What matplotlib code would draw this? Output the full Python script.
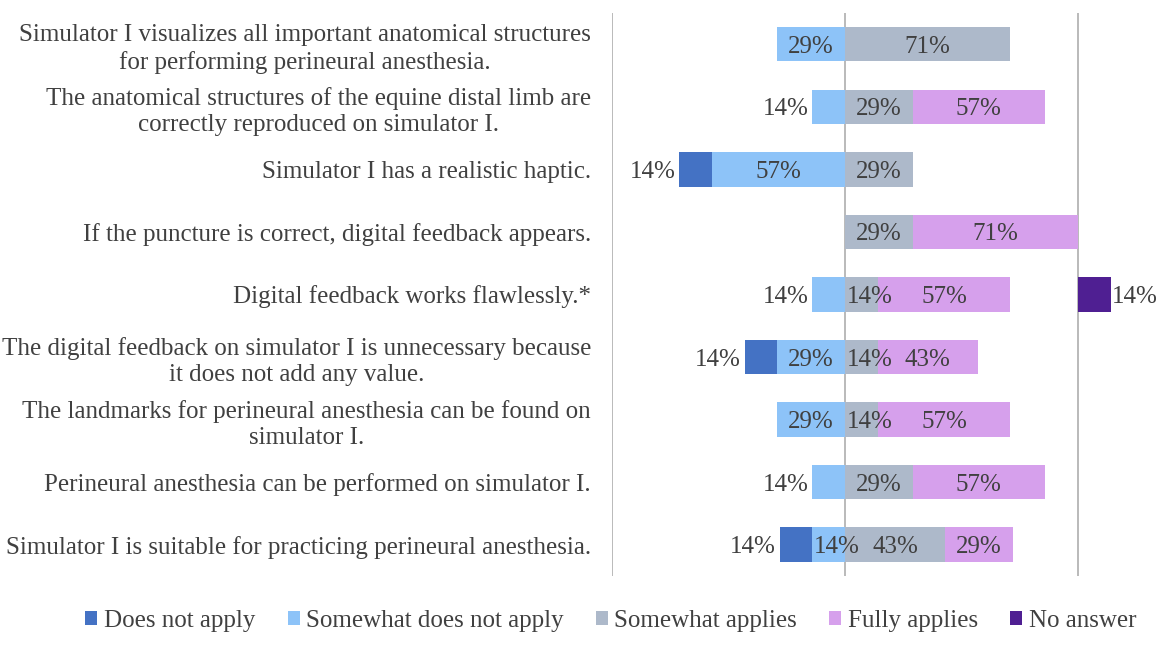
"""Diverging stacked bar chart of simulator I questionnaire answers."""
import matplotlib
matplotlib.use('Agg')
import matplotlib.pyplot as plt
import numpy as np

statements = [
    'Simulator I visualizes all important anatomical structures\nfor performing perineural anesthesia.',
    'The anatomical structures of the equine distal limb are\ncorrectly reproduced on simulator I.',
    'Simulator I has a realistic haptic.',
    'If the puncture is correct, digital feedback appears.',
    'Digital feedback works flawlessly.*',
    'The digital feedback on simulator I is unnecessary because\nit does not add any value.',
    'The landmarks for perineural anesthesia can be found on\nsimulator I.',
    'Perineural anesthesia can be performed on simulator I.',
    'Simulator I is suitable for practicing perineural anesthesia.',
]
does_not_apply = [0, 0, 14, 0, 0, 14, 0, 0, 14]
somewhat_not = [29, 14, 57, 0, 14, 29, 29, 14, 14]
somewhat_applies = [71, 29, 29, 29, 14, 14, 14, 29, 43]
fully_applies = [0, 57, 0, 71, 57, 43, 57, 57, 29]
no_answer = [0, 0, 0, 0, 14, 0, 0, 0, 0]

series_names = ['Does not apply', 'Somewhat does not apply', 'Somewhat applies',
                'Fully applies', 'No answer']
colors = ['#4472C4', '#8DC3F8', '#ADB9CA', '#D6A0EC', '#4F1F92']
TEXT = '#404040'
FONT = 'Liberation Serif'
FS = 18

plt.rcParams['font.family'] = [FONT, 'DejaVu Serif']

fig = plt.figure(figsize=(11.7, 6.45), dpi=100)
ax = fig.add_axes([0.523, 0.107, 0.474, 0.873])

y = np.arange(len(statements))
dna = np.array(does_not_apply)
sna = np.array(somewhat_not)
sa = np.array(somewhat_applies)
fa = np.array(fully_applies)
na = np.array(no_answer)
h = 0.55

segments = [
    (dna, -(dna + sna)),
    (sna, -sna),
    (sa, np.zeros_like(sa)),
    (fa, sa),
    (na, np.full_like(na, 100)),
]

for k, ((vals, lefts), name, col) in enumerate(zip(segments, series_names, colors)):
    ax.barh(y, vals, left=lefts, height=h, color=col, label=name,
            edgecolor='none', zorder=3)
    for i, (v, l) in enumerate(zip(vals, lefts)):
        if v == 0:
            continue
        txt = f'{v}%'
        kw = dict(va='center_baseline', color=TEXT, fontsize=FS, zorder=4)
        if k == 4:
            ax.text(l + v + 0.5, i, txt, ha='left', **kw)
        elif k < 2 and l == -(dna[i] + sna[i]) and v < 20:
            # outermost small segment: label outside on the left
            ax.text(l - 1.5, i, txt, ha='right', **kw)
        elif v < 20:
            ax.text(l + 0.8, i, txt, ha='left', **kw)
        else:
            ax.text(l + v / 2, i, txt, ha='center', **kw)

ax.set_xlim(-100, 138)
ax.set_ylim(len(statements) - 0.5, -0.5)
ax.set_xticks([-100, 0, 100])
ax.set_xticklabels([])
ax.tick_params(axis='x', length=0)
ax.grid(axis='x', color='#b4b4b4', linewidth=1.3, zorder=1)
ax.set_yticks(y)
ax.set_yticklabels(statements, multialignment='center', fontsize=FS, color=TEXT,
                   linespacing=1.25)
ax.tick_params(axis='y', length=0, pad=15)
for s in ax.spines.values():
    s.set_visible(False)

fig.legend(loc='center', bbox_to_anchor=(0.522, 0.037), ncol=5, frameon=False,
           fontsize=FS, handlelength=0.48, handleheight=0.48, handletextpad=0.25,
           columnspacing=1.3, labelcolor=TEXT)

plt.savefig('out.png', dpi=100)
plt.close()
